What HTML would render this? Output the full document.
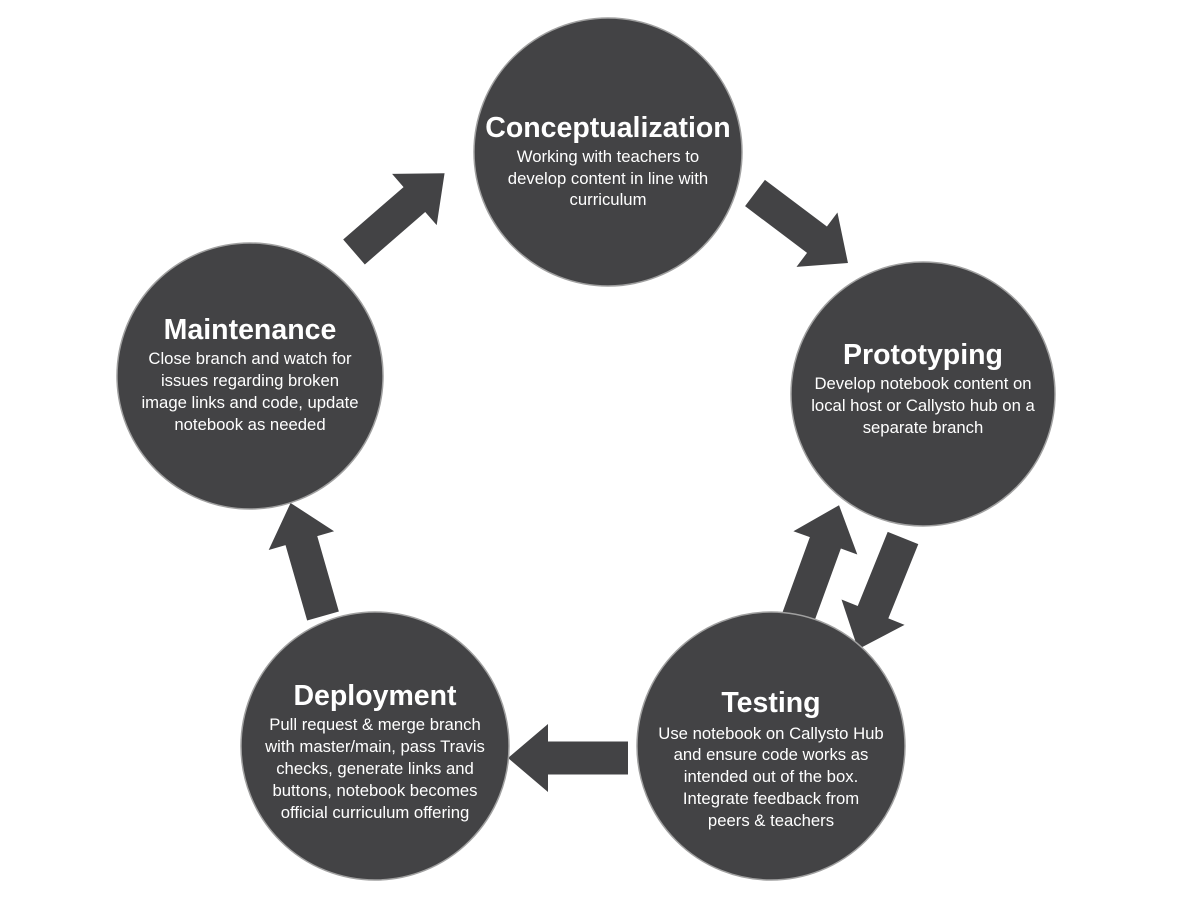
<!DOCTYPE html>
<html><head><style>
html,body{margin:0;padding:0;background:#fff;}
svg{display:block;}
text{font-family:"Liberation Sans",Arial,sans-serif;fill:#fff;text-anchor:middle;}
.t{font-size:28.5px;font-weight:bold;}
.b{font-size:16.7px;}
</style></head><body>
<svg width="1184" height="900" viewBox="0 0 1184 900" xmlns="http://www.w3.org/2000/svg">
<defs>
<g id="a"><polygon points="0,-16.5 80,-16.5 80,-34 120,0 80,34 80,16.5 0,16.5" fill="#434345"/></g>
</defs>
<use href="#a" transform="translate(354,252) rotate(-41)"/>
<use href="#a" transform="translate(755,193) rotate(37) scale(0.97,1)"/>
<use href="#a" transform="translate(903,538) rotate(112)"/>
<use href="#a" transform="translate(798,618) rotate(-70)"/>
<use href="#a" transform="translate(628,758) rotate(180)"/>
<use href="#a" transform="translate(323,616) rotate(-106) scale(0.98,1)"/>
<g fill="#434345" stroke="#a0a0a0" stroke-width="1.5">
<circle cx="608" cy="152" r="134"/>
<circle cx="923" cy="394" r="132"/>
<circle cx="771" cy="746" r="134"/>
<circle cx="375" cy="746" r="134"/>
<circle cx="250" cy="376" r="133"/>
</g>

<text class="t" x="608" y="137">Conceptualization</text>
<text class="b" x="608" y="162">Working with teachers to</text>
<text class="b" x="608" y="184">develop content in line with</text>
<text class="b" x="608" y="205">curriculum</text>

<text class="t" x="923" y="364">Prototyping</text>
<text class="b" x="923" y="389">Develop notebook content on</text>
<text class="b" x="923" y="411">local host or Callysto hub on a</text>
<text class="b" x="923" y="433">separate branch</text>

<text class="t" x="771" y="712">Testing</text>
<text class="b" x="771" y="739">Use notebook on Callysto Hub</text>
<text class="b" x="771" y="760">and ensure code works as</text>
<text class="b" x="771" y="782">intended out of the box.</text>
<text class="b" x="771" y="804">Integrate feedback from</text>
<text class="b" x="771" y="826">peers &amp; teachers</text>

<text class="t" x="375" y="705">Deployment</text>
<text class="b" x="375" y="730">Pull request &amp; merge branch</text>
<text class="b" x="375" y="752">with master/main, pass Travis</text>
<text class="b" x="375" y="774">checks, generate links and</text>
<text class="b" x="375" y="796">buttons, notebook becomes</text>
<text class="b" x="375" y="818">official curriculum offering</text>

<text class="t" x="250" y="339">Maintenance</text>
<text class="b" x="250" y="364">Close branch and watch for</text>
<text class="b" x="250" y="386">issues regarding broken</text>
<text class="b" x="250" y="408">image links and code, update</text>
<text class="b" x="250" y="430">notebook as needed</text>
</svg>
</body></html>
